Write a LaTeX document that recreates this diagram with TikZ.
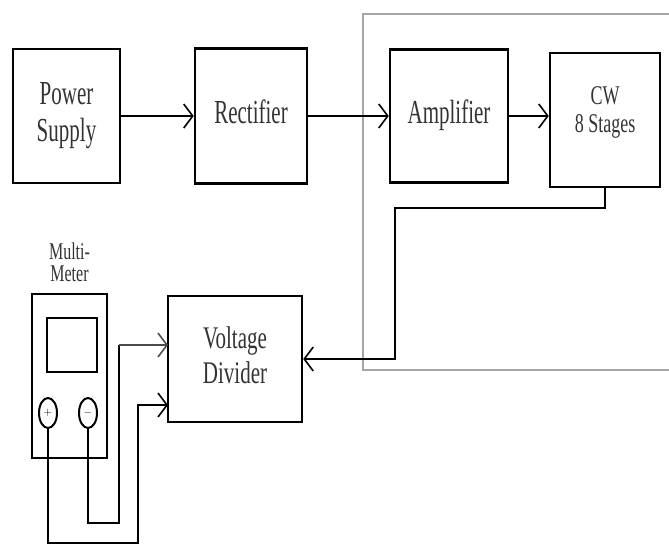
\documentclass[tikz,border=0pt]{standalone}
\usepackage{fontspec}
\setmainfont{Liberation Serif}
\usepackage{graphicx}
\usetikzlibrary{arrows.meta,positioning,shapes.geometric}

% tall (vertically stretched) text, as in the scanned figure
\newcommand{\tall}[2][1.6]{\scalebox{1}[#1]{\begin{tabular}{@{}c@{}}#2\end{tabular}}}

\begin{document}
\begin{tikzpicture}[
    x=1pt, y=-1pt,
    blk/.style={draw, line width=2.5pt, inner sep=0pt, text=black!80, font=\fontsize{21}{23}\selectfont},
    meter/.style={draw, line width=2.2pt, inner sep=0pt},
    knob/.style={draw, ellipse, line width=2pt, minimum width=18pt, minimum height=30pt, inner sep=0pt, font=\fontsize{11}{12}\selectfont},
    arr/.style={-{Straight Barb[length=9pt,width=24pt,line width=1.6pt]}, line width=2.5pt},
    wire/.style={line width=2.2pt},
    frame/.style={draw=black!35, line width=1.3pt}
]
\useasboundingbox (0,0) rectangle (669,552);

% top chain
\node[blk, minimum width=107pt, minimum height=134pt] (ps) at (66.5,116) {\tall{Power\\Supply}};
\node[blk, minimum width=112pt, minimum height=135pt, right=72.5pt of ps] (rect) {\tall{Rectifier}};
\node[blk, minimum width=118pt, minimum height=133pt, right=80.5pt of rect] (amp) {\tall{Amplifier}};
\node[blk, minimum width=110pt, minimum height=134pt, right=39.5pt of amp, yshift=-4pt] (cw) {};
\node[text=black!80, font=\fontsize{18}{19}\selectfont] (cwtext) at (605,113) {\tall[1.5]{CW\\8 Stages}};

% grey frame round the high voltage part
\draw[frame] (669,14) -- (363,14) -- (363,370) -- (669,370);

% bottom part
\node[blk, minimum width=134pt, minimum height=126pt] (vd) at (235,359) {\tall[1.5]{Voltage\\Divider}};
\node[meter, minimum width=75pt, minimum height=164pt] (mm) at (69.5,376) {};
\node[meter, minimum width=50pt, minimum height=54pt] (scr) at (72,345) {};
\node[knob] (plus) at (48,413) {$+$};
\node[knob] (minus) at (88,413) {$-$};
\node[text=black!80, font=\fontsize{16}{15}\selectfont, above=1pt of mm] (mmtext) {\tall[1.5]{Multi-\\Meter}};

\draw[arr] (ps) -- (rect);
\draw[arr] (rect) -- (amp);
\draw[arr] (amp) -- (amp -| cw.west);

\coordinate (fb) at (395,208);
\draw[arr] (cw.south) |- (fb) |- (vd.east);

\coordinate (pbend) at (138,543);
\coordinate (pin) at (168,405);
\coordinate (mbend) at (119,523);
\coordinate (min) at (168,345);
\draw[arr, line width=2.2pt] (plus.south) |- (pbend) |- (pin);
\draw[wire] (minus.south) |- (mbend) -- (mbend |- min);
\draw[arr, draw=black!70, line width=1.6pt] (mbend |- min) -- (min);
\end{tikzpicture}
\end{document}
